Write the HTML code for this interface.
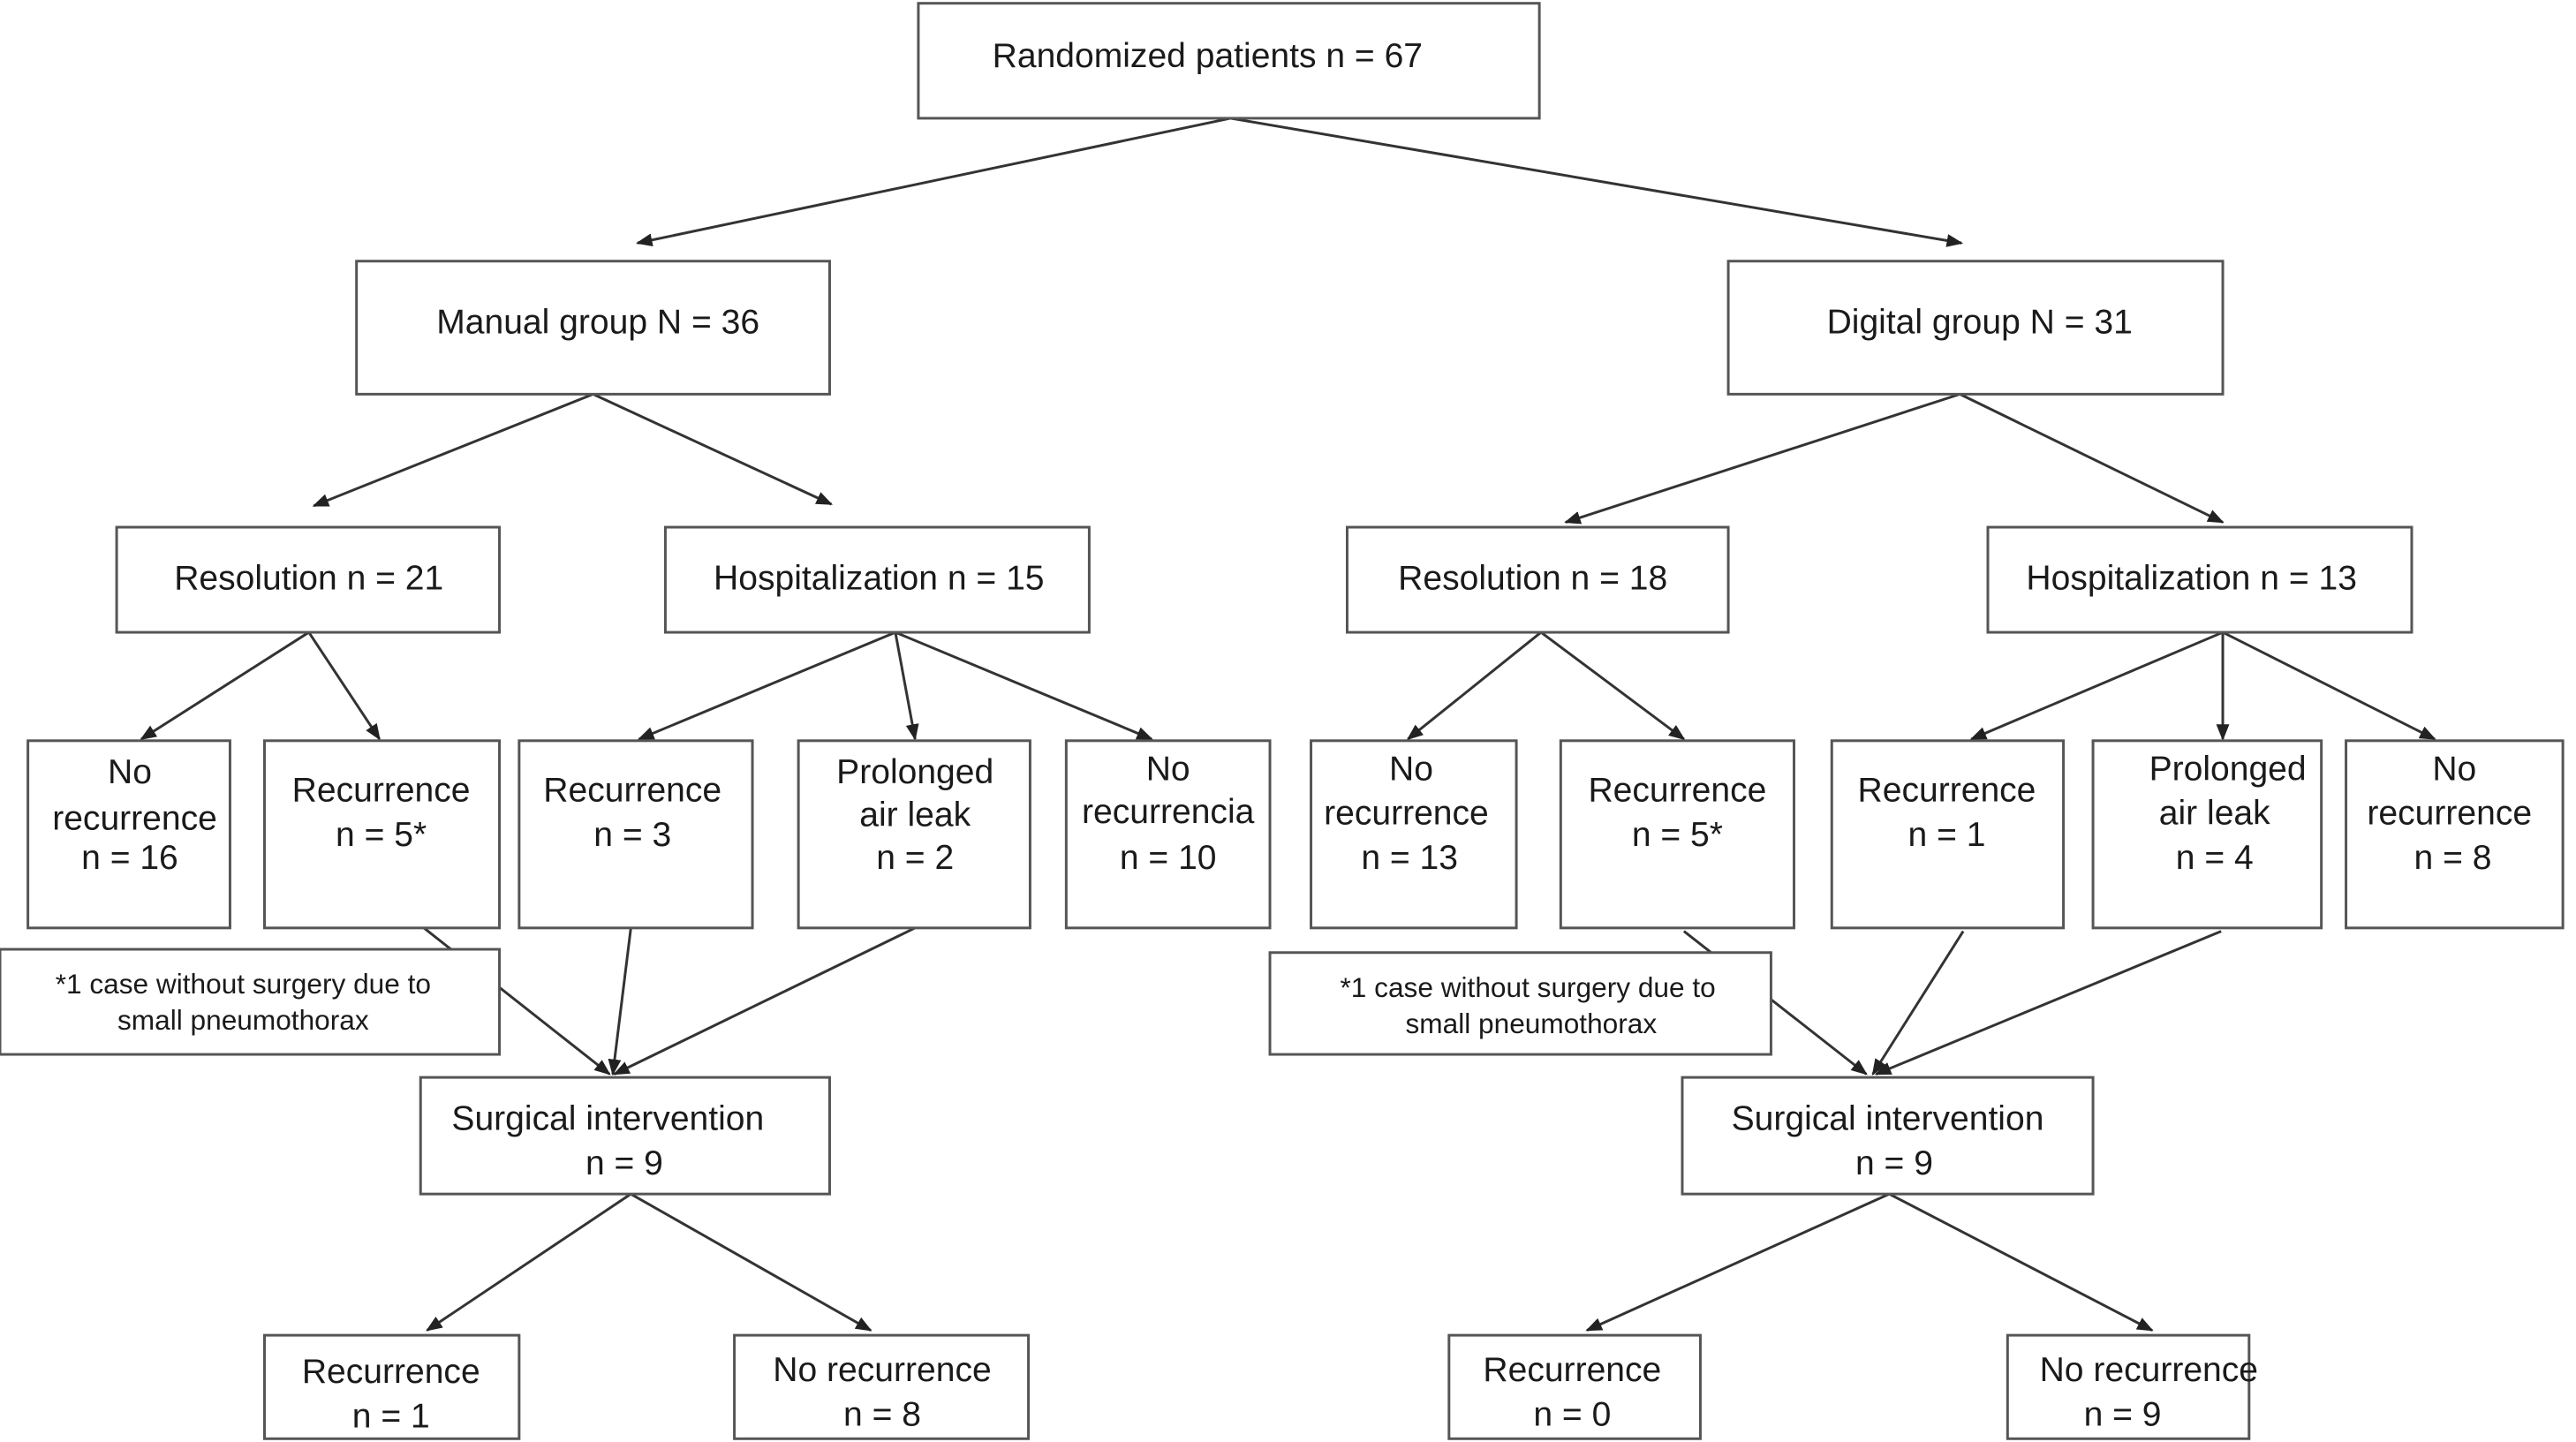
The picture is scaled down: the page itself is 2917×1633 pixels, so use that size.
<!DOCTYPE html>
<html><head><meta charset="utf-8"><style>
html,body{margin:0;padding:0;background:#fff;}
svg{display:block;}
text{font-family:"Liberation Sans",Arial,sans-serif;font-size:21px;fill:#1a1a1a;text-anchor:middle;}
.s{font-size:17px;}
rect{fill:#fff;stroke:#555;stroke-width:1.6;}
line{stroke:#333;stroke-width:1.6;}
</style></head><body>
<svg width="2917" height="1633" viewBox="0 0 1568 878" preserveAspectRatio="none" xmlns="http://www.w3.org/2000/svg">
<defs><marker id="a" markerWidth="10" markerHeight="8" refX="9" refY="4" orient="auto" markerUnits="userSpaceOnUse"><path d="M0,0 L10,4 L0,8 z" fill="#222"/></marker></defs>
<g marker-end="url(#a)">
<line x1="749" y1="72" x2="388" y2="148"/>
<line x1="749" y1="72" x2="1194" y2="148"/>
<line x1="361" y1="240" x2="191" y2="308"/>
<line x1="361" y1="240" x2="506" y2="307"/>
<line x1="1193" y1="240" x2="953" y2="318"/>
<line x1="1193" y1="240" x2="1353" y2="318"/>
<line x1="188" y1="385" x2="86" y2="450"/>
<line x1="188" y1="385" x2="231" y2="450"/>
<line x1="545" y1="385" x2="389" y2="450"/>
<line x1="545" y1="385" x2="557" y2="450"/>
<line x1="545" y1="385" x2="701" y2="450"/>
<line x1="938" y1="385" x2="857" y2="450"/>
<line x1="938" y1="385" x2="1025" y2="450"/>
<line x1="1353" y1="385" x2="1200" y2="450"/>
<line x1="1353" y1="385" x2="1353" y2="450"/>
<line x1="1353" y1="385" x2="1482" y2="450"/>
<line x1="258" y1="565" x2="371" y2="654"/>
<line x1="384" y1="565" x2="373" y2="654"/>
<line x1="557" y1="565" x2="374" y2="654"/>
<line x1="1025" y1="567" x2="1136" y2="654"/>
<line x1="1195" y1="567" x2="1140" y2="654"/>
<line x1="1352" y1="567" x2="1142" y2="654"/>
<line x1="384" y1="727" x2="260" y2="810"/>
<line x1="384" y1="727" x2="530" y2="810"/>
<line x1="1150" y1="727" x2="966" y2="810"/>
<line x1="1150" y1="727" x2="1310" y2="810"/>
</g>
<rect x="559" y="2" width="378" height="70"/><text x="735" y="41">Randomized patients n = 67</text>
<rect x="217" y="159" width="288" height="81"/><text x="364" y="203">Manual group N = 36</text>
<rect x="1052" y="159" width="301" height="81"/><text x="1205" y="203">Digital group N = 31</text>
<rect x="71" y="321" width="233" height="64"/><text x="188" y="359">Resolution n = 21</text>
<rect x="405" y="321" width="258" height="64"/><text x="535" y="359">Hospitalization n = 15</text>
<rect x="820" y="321" width="232" height="64"/><text x="933" y="359">Resolution n = 18</text>
<rect x="1210" y="321" width="258" height="64"/><text x="1334" y="359">Hospitalization n = 13</text>

<rect x="17" y="451" width="123" height="114"/><text x="79" y="477">No</text><text x="82" y="505">recurrence</text><text x="79" y="529">n = 16</text>
<rect x="161" y="451" width="143" height="114"/><text x="232" y="488">Recurrence</text><text x="232" y="515">n = 5*</text>
<rect x="316" y="451" width="142" height="114"/><text x="385" y="488">Recurrence</text><text x="385" y="515">n = 3</text>
<rect x="486" y="451" width="141" height="114"/><text x="557" y="477">Prolonged</text><text x="557" y="503">air leak</text><text x="557" y="529">n = 2</text>
<rect x="649" y="451" width="124" height="114"/><text x="711" y="475">No</text><text x="711" y="501">recurrencia</text><text x="711" y="529">n = 10</text>
<rect x="798" y="451" width="125" height="114"/><text x="859" y="475">No</text><text x="856" y="502">recurrence</text><text x="858" y="529">n = 13</text>
<rect x="950" y="451" width="142" height="114"/><text x="1021" y="488">Recurrence</text><text x="1021" y="515">n = 5*</text>
<rect x="1115" y="451" width="141" height="114"/><text x="1185" y="488">Recurrence</text><text x="1185" y="515">n = 1</text>
<rect x="1274" y="451" width="139" height="114"/><text x="1356" y="475">Prolonged</text><text x="1348" y="502">air leak</text><text x="1348" y="529">n = 4</text>
<rect x="1428" y="451" width="132" height="114"/><text x="1494" y="475">No</text><text x="1491" y="502">recurrence</text><text x="1493" y="529">n = 8</text>

<rect x="0" y="578" width="304" height="64"/><text class="s" x="148" y="605">*1 case without surgery due to</text><text class="s" x="148" y="627">small pneumothorax</text>
<rect x="773" y="580" width="305" height="62"/><text class="s" x="930" y="607">*1 case without surgery due to</text><text class="s" x="932" y="629">small pneumothorax</text>

<rect x="256" y="656" width="249" height="71"/><text x="370" y="688">Surgical intervention</text><text x="380" y="715">n = 9</text>
<rect x="1024" y="656" width="250" height="71"/><text x="1149" y="688">Surgical intervention</text><text x="1153" y="715">n = 9</text>

<rect x="161" y="813" width="155" height="63"/><text x="238" y="842">Recurrence</text><text x="238" y="869">n = 1</text>
<rect x="447" y="813" width="179" height="63"/><text x="537" y="841">No recurrence</text><text x="537" y="868">n = 8</text>
<rect x="882" y="813" width="153" height="63"/><text x="957" y="841">Recurrence</text><text x="957" y="868">n = 0</text>
<rect x="1222" y="813" width="147" height="63"/><text x="1308" y="841">No recurrence</text><text x="1292" y="868">n = 9</text>
</svg>
</body></html>
